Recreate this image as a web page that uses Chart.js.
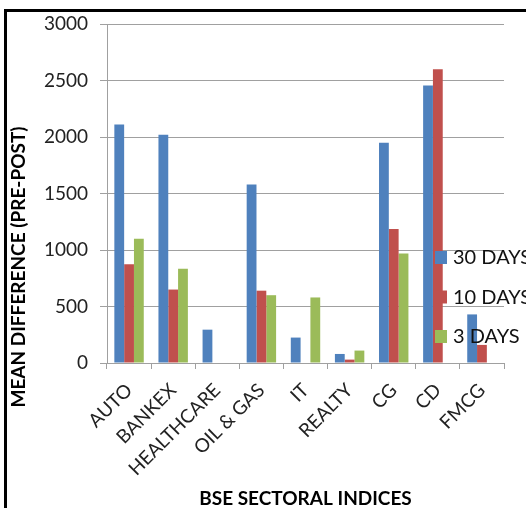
<!DOCTYPE html>
<html>
<head>
<meta charset="utf-8">
<script src="https://cdn.jsdelivr.net/npm/chart.js@4/dist/chart.umd.min.js"></script>
<style>
  html, body { margin: 0; padding: 0; background: #fff; overflow: hidden; }
  #wrap { position: relative; width: 526px; height: 508px; }
</style>
</head>
<body>
<div id="wrap"><canvas id="c" width="526" height="508"></canvas></div>
<script>
// Sector indices and mean differences (pre-post) for three event windows
const categories = ['AUTO', 'BANKEX', 'HEALTHCARE', 'OIL & GAS', 'IT', 'REALTY', 'CG', 'CD', 'FMCG'];
const days30 = [2110, 2020, 295, 1580, 225, 80, 1950, 2455, 430];
const days10 = [875, 650, 0, 640, 0, 30, 1185, 2600, 160];
const days3  = [1100, 835, 0, 600, 580, 110, 970, 0, 0];
const seriesLabels = ['30 DAYS', '10 DAYS', '3 DAYS'];
const seriesColors = ['#4F81BD', '#C0504D', '#9BBB59'];
const yTicks = [0, 500, 1000, 1500, 2000, 2500, 3000];

const yTitle = 'MEAN DIFFERENCE (PRE-POST)';
const xTitle = 'BSE SECTORAL INDICES';
const FONT = 'Lato, "Open Sans", sans-serif';

// Outer frame, axis titles and the in-plot legend
const decorations = {
  id: 'decorations',
  afterDraw(chart) {
    const ctx = chart.ctx;
    const area = chart.chartArea;
    ctx.save();
    // frame (left and top edges)
    ctx.fillStyle = '#000';
    ctx.fillRect(4, 9, 3, 520);
    ctx.fillRect(4, 9, 540, 3);

    // y axis title
    ctx.fillStyle = '#000';
    ctx.font = 'bold 19px ' + FONT;
    ctx.textAlign = 'center';
    ctx.textBaseline = 'middle';
    ctx.translate(19, 267);
    ctx.rotate(-Math.PI / 2);
    ctx.fillText(yTitle, 0, 0);
    ctx.restore();

    // x axis title
    ctx.save();
    ctx.fillStyle = '#000';
    ctx.font = 'bold 19px ' + FONT;
    ctx.textAlign = 'center';
    ctx.textBaseline = 'alphabetic';
    ctx.fillText(xTitle, (area.left + area.right) / 2, 505);
    ctx.restore();

    // legend drawn over the plot
    ctx.save();
    ctx.font = '20px ' + FONT;
    ctx.textBaseline = 'middle';
    ctx.textAlign = 'left';
    chart.data.datasets.forEach((ds, i) => {
      const cy = 257 + i * 39.5;
      ctx.fillStyle = ds.backgroundColor;
      ctx.fillRect(435, cy - 6, 12, 13);
      ctx.fillStyle = '#111';
      ctx.fillText(ds.label, 453, cy + 1);
    });
    ctx.restore();
  }
};

new Chart(document.getElementById('c'), {
  type: 'bar',
  data: {
    labels: categories,
    datasets: [
      { label: seriesLabels[0], data: days30, backgroundColor: seriesColors[0] },
      { label: seriesLabels[1], data: days10, backgroundColor: seriesColors[1] },
      { label: seriesLabels[2], data: days3,  backgroundColor: seriesColors[2] }
    ]
  },
  options: {
    responsive: false,
    animation: false,
    devicePixelRatio: 1,
    layout: { padding: { top: 24, right: 22, left: 0, bottom: 0 } },
    datasets: { bar: { categoryPercentage: 0.667, barPercentage: 1.0 } },
    plugins: { legend: { display: false }, tooltip: { enabled: false } },
    scales: {
      x: {
        grid: { offset: true, drawOnChartArea: false, color: '#a0a0a0', tickLength: 6 },
        border: { color: '#a0a0a0' },
        ticks: {
          color: '#222', font: { family: FONT, size: 19 },
          maxRotation: 45, minRotation: 45, autoSkip: false, padding: 10
        },
        afterFit(scale) { scale.height = 145; }
      },
      y: {
        min: 0, max: 3000,
        afterBuildTicks(scale) { scale.ticks = yTicks.map(v => ({ value: v })); },
        grid: { color: '#a0a0a0', tickLength: 7 },
        border: { color: '#a0a0a0' },
        ticks: {
          color: '#222', font: { family: FONT, size: 19 }, padding: 12,
          callback: v => String(v)
        },
        afterFit(scale) { scale.width = 107; }
      }
    }
  },
  plugins: [decorations]
});
</script>
</body>
</html>
